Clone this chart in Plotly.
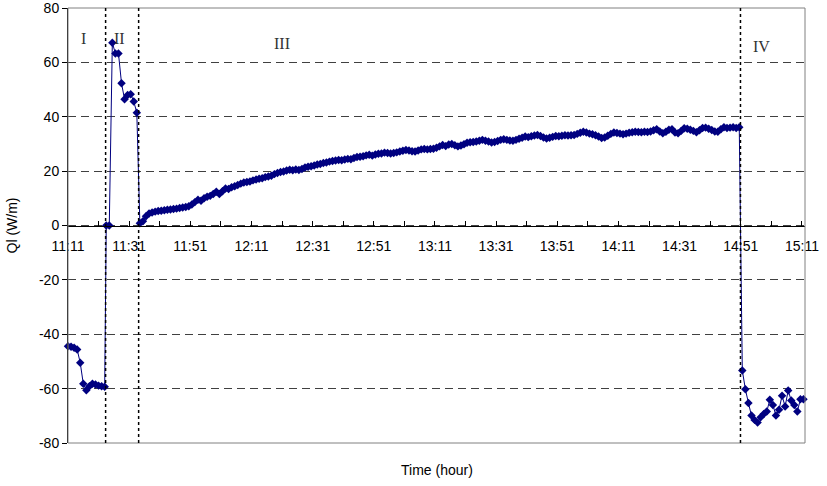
import numpy as np
import pandas as pd
import plotly.graph_objects as go

# ---------------- data ----------------
clock_day = "2000-01-01 "
start_clock = "11:11:00"
# start of each phase, minutes after 11:11 ; samples every minute
phase_start_min = [0.0, 12.5, 23.5, 220.5]

q_phase1 = [-44.4, -44.6, -45.0, -45.6, -50.5, -58.2, -60.6, -59.1, -58.2, -58.5,
            -58.9, -59.1, -59.3]
q_phase2 = [0.0, 0.0, 67.2, 63.3, 63.3, 52.3, 46.4, 48.0, 48.3, 45.6, 41.5]
q_phase3 = [0.8, 1.6, 3.4, 4.4, 4.8, 5.1, 5.3, 5.4, 5.6, 5.8,
            5.9, 6.1, 6.2, 6.4, 6.6, 6.8, 7.1, 7.7, 8.6, 9.5,
            9.1, 10.0, 10.6, 10.9, 11.6, 12.4, 11.6, 12.6, 13.6, 13.4,
            14.1, 14.4, 14.9, 15.4, 15.8, 16.0, 16.2, 16.6, 16.9, 17.2,
            17.4, 17.8, 18.0, 18.3, 18.9, 19.3, 19.7, 19.9, 20.2, 20.5,
            20.3, 20.6, 20.4, 20.8, 21.3, 21.6, 21.8, 22.1, 22.4, 22.6,
            23.0, 23.2, 23.5, 23.7, 23.9, 24.1, 24.0, 24.3, 24.5, 24.4,
            24.8, 25.2, 25.3, 25.5, 25.8, 26.0, 25.7, 26.1, 26.4, 26.5,
            26.8, 26.7, 26.5, 26.7, 26.9, 27.2, 27.5, 27.8, 27.6, 27.3,
            27.2, 27.6, 28.0, 28.1, 28.0, 28.1, 28.2, 28.6, 29.1, 29.6,
            29.2, 29.8, 30.0, 29.5, 29.1, 29.4, 29.9, 30.4, 30.6, 30.7,
            30.9, 31.2, 31.5, 31.2, 30.9, 30.5, 30.7, 31.1, 31.5, 31.7,
            31.5, 31.3, 31.2, 31.5, 31.9, 32.3, 32.7, 32.5, 32.8, 33.1,
            33.3, 32.9, 32.4, 32.0, 32.3, 32.6, 32.9, 32.8, 33.0, 33.2,
            33.1, 33.2, 33.3, 33.7, 34.1, 34.5, 34.2, 33.8, 33.6, 33.2,
            32.7, 32.2, 32.4, 33.0, 33.7, 34.2, 34.0, 33.8, 33.6, 33.8,
            34.1, 34.3, 34.5, 34.4, 34.3, 34.5, 34.4, 34.6, 35.0, 35.4,
            34.6, 33.9, 34.5, 35.2, 35.4, 34.2, 33.9, 34.8, 35.8, 35.6,
            35.2, 34.8, 34.3, 35.0, 35.9, 36.0, 35.6, 35.1, 34.6, 34.5,
            35.4, 36.1, 35.9, 36.0, 36.1, 35.9, 36.1]
q_phase4 = [-53.3, -60.2, -65.3, -69.9, -71.5, -72.5, -70.5, -69.3, -68.4, -64.1,
            -66.0, -69.9, -67.8, -62.6, -66.6, -60.7, -64.4, -66.0, -68.4, -63.9,
            -63.9]

phase_labels = ["I", "II", "III", "IV"]
phase_label_min = [5.1, 16.9, 69.9, 226.8]
phase_label_q = [68.9, 68.9, 66.8, 65.8]
phase_boundary_min = [12.3, 23.1, 219.9]

x_tick_labels = ["11:11", "11:31", "11:51", "12:11", "12:31", "12:51", "13:11",
                 "13:31", "13:51", "14:11", "14:31", "14:51", "15:11"]
x_range_min = [0.0, 241.0]
y_ticks = [-80, -60, -40, -20, 0, 20, 40, 60, 80]
y_tick_labels = ["-80", "-60", "-40", "-20", "0", "20", "40", "60", "80"]

# ---------------- build ----------------
base = pd.Timestamp(clock_day + start_clock)
def at(minutes):
    return base + pd.to_timedelta(np.asarray(minutes, dtype=float), unit="min")

phases = [q_phase1, q_phase2, q_phase3, q_phase4]
times, values = [], []
for s, q in zip(phase_start_min, phases):
    times.extend(list(at(s + np.arange(len(q)))))
    values.extend(q)

navy = "#000080"
font_sans = "Liberation Sans, Arial"
fig = go.Figure()
fig.add_trace(go.Scatter(
    x=times, y=values, mode="lines+markers",
    line=dict(color=navy, width=1),
    marker=dict(symbol="diamond", size=6.5, color=navy, line=dict(width=0)),
    showlegend=False, cliponaxis=False))

tickvals = [pd.Timestamp(clock_day + t) for t in x_tick_labels]
fig.update_xaxes(
    type="date", range=list(at(x_range_min)),
    tickvals=tickvals, ticktext=x_tick_labels,
    anchor="free", position=0.5, automargin=False, ticklabeloverflow="allow",
    showline=True, linecolor="black", linewidth=1,
    ticks="inside", ticklen=5, tickcolor="black",
    minor=dict(dtick=600000, tick0=base, ticks="inside", ticklen=5,
               tickcolor="black", showgrid=False),
    showgrid=False, zeroline=False,
    ticklabelstandoff=8,
    tickfont=dict(family=font_sans, size=14, color="black"))
fig.update_yaxes(
    range=[-80, 80], tickvals=y_ticks, ticktext=y_tick_labels,
    automargin=False, ticklabeloverflow="allow",
    showline=True, linecolor="black", linewidth=1,
    ticks="outside", ticklen=5, tickcolor="black",
    showgrid=True, gridcolor="#404040", gridwidth=1, griddash="8px,5px",
    zeroline=False,
    tickfont=dict(family=font_sans, size=14, color="black"))

shapes = [dict(type="rect", xref="paper", yref="paper", x0=0, x1=1, y0=0, y1=1,
               line=dict(color="#808080", width=1), layer="above")]
for b in phase_boundary_min:
    tb = at(b)
    shapes.append(dict(type="line", xref="x", yref="y", x0=tb, x1=tb, y0=-80, y1=80,
                       line=dict(color="black", width=1.5, dash="dot")))

annotations = []
for lab, m, qv in zip(phase_labels, phase_label_min, phase_label_q):
    annotations.append(dict(x=at(m), y=qv, xref="x", yref="y", text=lab,
                            showarrow=False,
                            font=dict(family="Liberation Serif, Times New Roman", size=16,
                                      color="#333333")))
annotations.append(dict(x=0.5, y=-0.062, xref="paper", yref="paper", text="Time (hour)",
                        showarrow=False, yanchor="middle",
                        font=dict(family=font_sans, size=14, color="black")))
annotations.append(dict(x=-0.076, y=0.5, xref="paper", yref="paper", text="Ql (W/m)",
                        showarrow=False, textangle=-90, xanchor="center",
                        font=dict(family=font_sans, size=14, color="black")))

fig.update_layout(
    width=827, height=486,
    margin=dict(l=68, r=22, t=8, b=43),
    paper_bgcolor="white", plot_bgcolor="white",
    shapes=shapes, annotations=annotations)

fig.write_html("out.html", config={"displayModeBar": False},
               post_script="document.body.style.margin='0';")
